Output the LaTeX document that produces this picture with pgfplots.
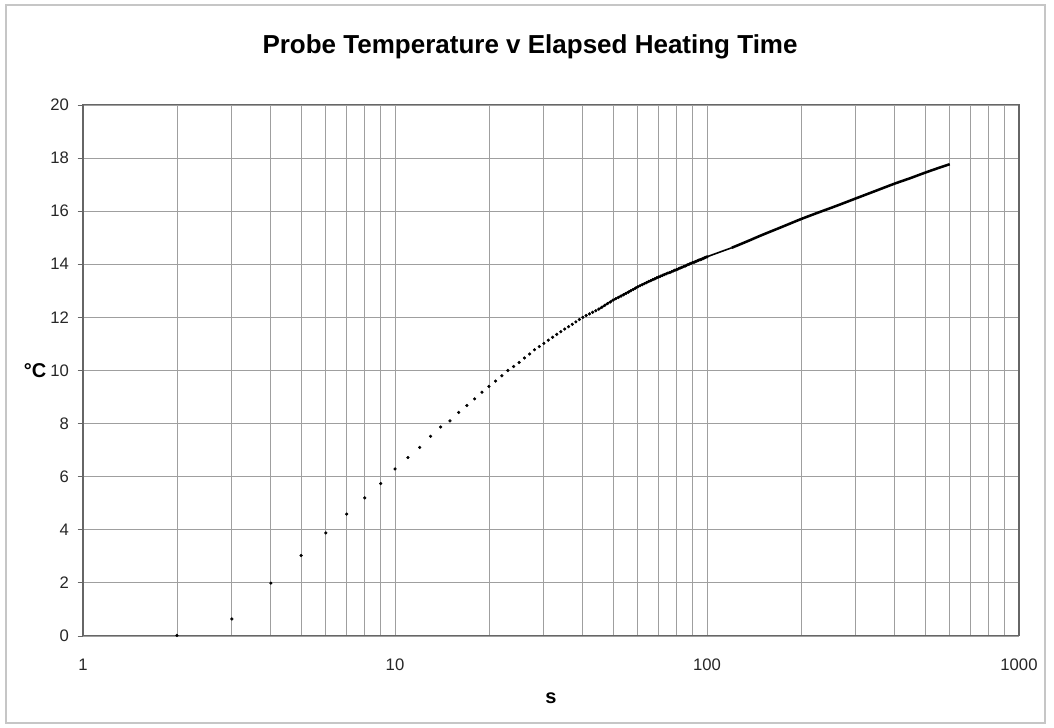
\documentclass[border=0pt]{standalone}
\usepackage{pgfplots}
\pgfplotsset{compat=1.18}
\usepackage{fontspec}
\setmainfont{Liberation Sans}
\begin{document}
\begin{tikzpicture}
\begin{axis}[
  scale only axis, width=702pt, height=398.25pt,
  xmode=log, log basis x=10,
  xmin=1, xmax=1000, ymin=0, ymax=20,
  xtick={1,10,100,1000}, xticklabels={1,10,100,1000},
  minor xtick={2,3,4,5,6,7,8,9,20,30,40,50,60,70,80,90,200,300,400,500,600,700,800,900},
  ytick={0,2,4,6,8,10,12,14,16,18,20},
  grid=both,
  major grid style={draw=gray!75, line width=0.6pt},
  minor grid style={draw=gray!75, line width=0.6pt},
  axis line style={draw=gray!80!black, line width=0.8pt},
  xtick style={draw=none},
  minor tick length=0pt,
  ytick style={draw=gray!80!black, line width=0.6pt},
  ytick pos=left, tick align=outside, major tick length=4pt,
  /pgf/number format/assume math mode=true,
  tick label style={font=\fontsize{12.5}{14}\selectfont, text=black!85},
  xticklabel style={yshift=-10pt},
  yticklabel style={xshift=-3pt},
  title={Probe Temperature v Elapsed Heating Time},
  title style={font=\bfseries\fontsize{19.5}{22}\selectfont, at={(rel axis cs:0.4776,1.094)}, anchor=center},
  xlabel={s},
  xlabel style={font=\bfseries\fontsize{15}{18}\selectfont, at={(rel axis cs:0.5,-0.117)}, anchor=center},
  ylabel={°C},
  ylabel style={font=\bfseries\fontsize{15}{18}\selectfont, rotate=-90, at={(rel axis cs:-0.0513,0.5)}, anchor=center},
  clip=false,
]
\addplot[only marks, mark=*, mark size=1pt, black] coordinates {
(2,0.02) (3,0.64) (4,1.99) (5,3.03) (6,3.88) (7,4.59) (8,5.2) (9,5.74) (10,6.29)
(11,6.72) (12,7.1) (13,7.52) (14,7.87) (15,8.1) (16,8.42) (17,8.68) (18,8.93) (19,9.18) (20,9.4)
(21,9.6) (22,9.8) (23,10.0) (24,10.15) (25,10.3) (26,10.47) (27,10.62) (28,10.78) (29,10.9) (30,11.02)
(31,11.14) (32,11.25) (33,11.36) (34,11.46) (35,11.56) (36,11.65) (37,11.74) (38,11.83) (39,11.92) (40,12.0)
(41,12.07) (42,12.13) (43,12.19) (44,12.25) (45,12.31) (46,12.38) (47,12.45) (48,12.52) (49,12.58) (50,12.65)
(51,12.7) (52,12.75) (53,12.8) (54,12.85) (55,12.9) (56,12.95) (57,13.0) (58,13.05) (59,13.1) (60,13.15)
(61,13.19) (62,13.23) (63,13.27) (64,13.31) (65,13.35) (66,13.38) (67,13.42) (68,13.45) (69,13.49) (70,13.52)
(71,13.55) (72,13.58) (73,13.61) (74,13.64) (75,13.67) (76,13.69) (77,13.72) (78,13.75) (79,13.78) (80,13.8)
(81,13.83) (82,13.86) (83,13.88) (84,13.91) (85,13.93) (86,13.96) (87,13.99) (88,14.01) (89,14.04) (90,14.06)
(91,14.08) (92,14.1) (93,14.13) (94,14.15) (95,14.17) (96,14.19) (97,14.21) (98,14.24) (99,14.26) (100,14.28)
};
\addplot[black, line width=1.2pt, no marks, smooth] coordinates {
(45,12.31) (50,12.65) (60,13.15) (70,13.52) (80,13.8) (90,14.06) (100,14.28) (110,14.46) (120,14.62)
};
\addplot[black, line width=1.9pt, no marks, smooth] coordinates {
(120,14.62) (135,14.87) (150,15.1) (175,15.42) (200,15.7) (230,15.97) (260,16.2) (300,16.48)
(350,16.78) (400,17.04) (450,17.25) (500,17.45) (550,17.62) (600,17.77)
};
\draw[gray!45, line width=0.9pt] (rel axis cs:-0.0823,-0.1638) rectangle (rel axis cs:1.0278,1.1883);
\path (rel axis cs:-0.0887,-0.1733) (rel axis cs:1.0374,1.1977);
\end{axis}
\end{tikzpicture}
\end{document}
